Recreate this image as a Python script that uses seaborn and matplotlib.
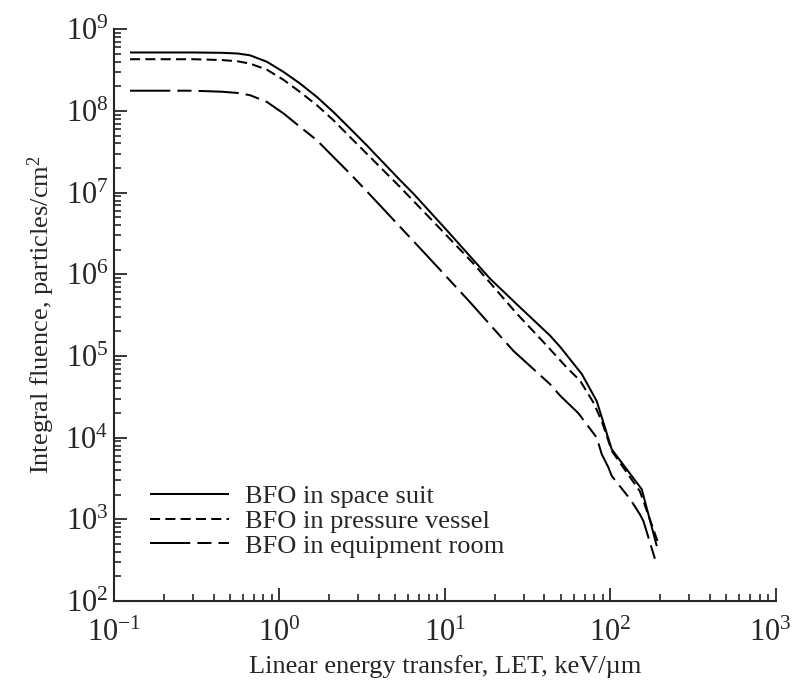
import matplotlib
matplotlib.use("Agg")
import matplotlib.pyplot as plt
import matplotlib.transforms as mtransforms
import seaborn as sns
import numpy as np
import pandas as pd
from matplotlib.ticker import LogLocator, NullFormatter

# Data
suit_x = [0.125, 0.3, 0.45, 0.56, 0.664, 0.84, 1.06, 1.33, 1.68, 2.12, 2.67, 3.37, 5.36, 6.46,
          10.3, 18.8, 27.2, 43.3, 49.8, 67.3, 82.8, 102, 155, 191]
suit_y = [5.2e8, 5.2e8, 5.15e8, 5.05e8, 4.8e8, 4.0e8, 3.0e8, 2.17e8, 1.49e8, 9.7e7, 6.1e7, 3.8e7, 1.42e7, 9.7e6,
          3.44e6, 8.8e5, 4.3e5, 1.77e5, 1.29e5, 6.0e4, 2.8e4, 7.2e3, 2.33e3, 470]

vessel_x = [0.125, 0.3, 0.45, 0.56, 0.664, 0.84, 1.06, 1.33, 1.68, 2.12, 2.67, 3.37, 5.36, 8.53,
            14.9, 27.2, 41.3, 54.6, 65.6, 79, 88.7, 102, 151, 193]
vessel_y = [4.3e8, 4.3e8, 4.2e8, 4.05e8, 3.8e8, 3.2e8, 2.4e8, 1.71e8, 1.18e8, 7.7e7, 4.8e7, 3.0e7, 1.17e7, 4.4e6,
            1.35e6, 3.3e5, 1.34e5, 7.2e4, 5.0e4, 2.7e4, 1.6e4, 6.9e3, 2.2e3, 542]

room_x = [0.125, 0.3, 0.45, 0.56, 0.664, 0.84, 1.06, 1.33, 1.68, 2.12, 2.67, 3.37, 4.25, 7.78,
          14.2, 25.9, 43.3, 49.8, 64, 82.8, 88.7, 97.5, 102, 132, 151, 158.5, 186.6]
room_y = [1.77e8, 1.77e8, 1.72e8, 1.66e8, 1.56e8, 1.29e8, 9.3e7, 6.4e7, 4.4e7, 2.73e7, 1.71e7, 1.04e7, 6.3e6, 1.7e6,
          4.55e5, 1.16e5, 4.5e4, 3.26e4, 2.0e4, 1.0e4, 6.3e3, 4.3e3, 3.4e3, 1.76e3, 1.15e3, 953, 323]

labels = ["BFO in space suit", "BFO in pressure vessel", "BFO in equipment room"]
x_major = [0.1, 1, 10, 100, 1000]
y_major = [1e2, 1e3, 1e4, 1e5, 1e6, 1e7, 1e8, 1e9]

sns.set_style("ticks")
plt.rcParams["font.family"] = ["Liberation Serif", "DejaVu Serif"]
plt.rcParams["mathtext.fontset"] = "custom"
plt.rcParams["mathtext.rm"] = "Liberation Serif"
plt.rcParams["mathtext.it"] = "Liberation Serif:italic"
plt.rcParams["mathtext.bf"] = "Liberation Serif:bold"

fig = plt.figure(figsize=(7.94, 6.89), dpi=100)
ax = fig.add_axes([0.1436, 0.1277, 0.8334, 0.8298])

series = [(suit_x, suit_y, (0, ()), labels[0]),
          (vessel_x, vessel_y, (0, (5.0, 2.6)), labels[1]),
          (room_x, room_y, (0, (20, 3.5, 7, 3.5)), labels[2])]

for xs, ys, ls, lab in series:
    df = pd.DataFrame({"x": xs, "y": ys})
    sns.lineplot(data=df, x="x", y="y", ax=ax, color="black", linewidth=1.45,
                 linestyle=ls, label=lab, sort=False, estimator=None)

ax.set_xscale("log")
ax.set_yscale("log")
ax.set_xlim(0.1, 1000)
ax.set_ylim(1e2, 1e9)

ax.set_xticks(x_major)
ax.set_yticks(y_major)
ax.xaxis.set_minor_locator(LogLocator(base=10, subs=np.arange(2, 10), numticks=20))
ax.yaxis.set_minor_locator(LogLocator(base=10, subs=np.arange(2, 10), numticks=20))
ax.xaxis.set_minor_formatter(NullFormatter())
ax.yaxis.set_minor_formatter(NullFormatter())

for s in ["top", "right"]:
    ax.spines[s].set_visible(False)
for s in ["left", "bottom"]:
    ax.spines[s].set_linewidth(1.5)

ax.tick_params(which="major", direction="in", length=9.5, width=1.3, labelsize=22)
ax.tick_params(which="minor", direction="in", length=5, width=1.2)
ax.tick_params(axis="x", which="major", pad=13)
ax.tick_params(axis="y", which="major", pad=4)

ax.set_xlabel("Linear energy transfer, LET, keV/\u00b5m", fontsize=19, labelpad=5)
ax.set_ylabel("Integral fluence, particles/cm$^2$", fontsize=19, labelpad=6)

leg = ax.legend(loc="lower left", bbox_to_anchor=(0.054, 0.076), frameon=False,
                fontsize=19, handlelength=3.0, handletextpad=0.6, labelspacing=0.05,
                borderaxespad=0, borderpad=0)
for line in leg.get_lines():
    line.set_linewidth(1.45)

# keep the rightmost x tick label inside the canvas, as in the reference
fig.canvas.draw()
for t in ax.get_xticklabels():
    if abs(t.get_position()[0] - 1000) < 1e-6:
        t.set_transform(t.get_transform() + mtransforms.ScaledTranslation(-4 / 72, 0, fig.dpi_scale_trans))

fig.savefig("out.png", dpi=100)
